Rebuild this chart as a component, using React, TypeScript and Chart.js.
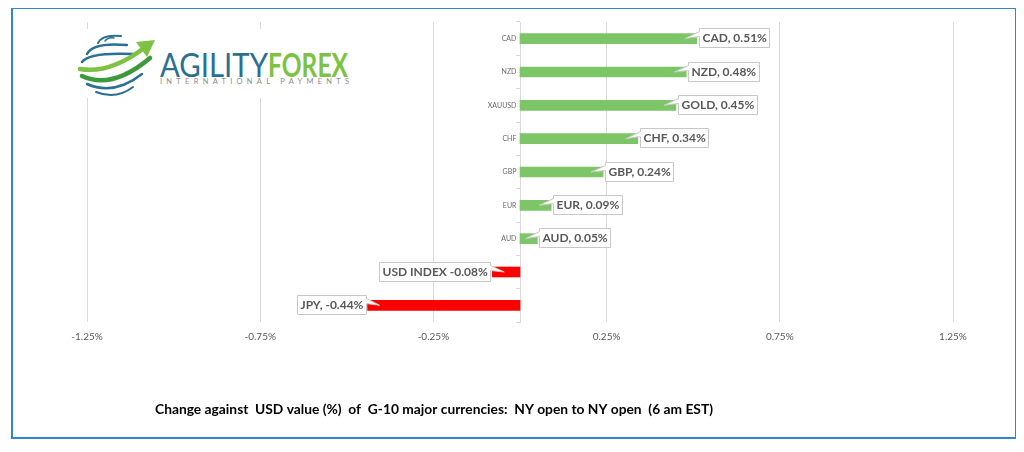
import React, { useEffect, useRef } from 'react';
import { Chart, registerables } from 'chart.js';

Chart.register(...registerables);

const categories = ['CAD', 'NZD', 'XAUUSD', 'CHF', 'GBP', 'EUR', 'AUD', 'USD', 'JPY'];
const changes = [0.51, 0.48, 0.45, 0.34, 0.24, 0.09, 0.05, -0.08, -0.44];
const calloutLabels = [
  'CAD, 0.51%',
  'NZD, 0.48%',
  'GOLD, 0.45%',
  'CHF, 0.34%',
  'GBP, 0.24%',
  'EUR, 0.09%',
  'AUD, 0.05%',
  'USD INDEX -0.08%',
  'JPY, -0.44%',
];
const xMin = -1.25;
const xMax = 1.25;
const xStep = 0.5;
const titleText =
  'Change against  USD value (%)  of  G-10 major currencies:  NY open to NY open  (6 am EST)';

const FONT = 'Lato, "Open Sans", sans-serif';
const POS_COLOR = '#7cc667';
const NEG_COLOR = '#ff0000';

const calloutPlugin = {
  id: 'callouts',
  afterDatasetsDraw(chart: any) {
    const ctx = chart.ctx;
    const meta = chart.getDatasetMeta(0);
    ctx.save();
    ctx.font = `bold 12px ${FONT}`;
    ctx.textBaseline = 'middle';
    meta.data.forEach((el: any, i: number) => {
      const text = calloutLabels[i];
      const tw = ctx.measureText(text).width;
      const padX = 3;
      const h = 19;
      const w = Math.round(tw + padX * 2);
      const pos = changes[i] >= 0;
      const end = el.x;
      const cy = el.y;
      const bx = Math.round(pos ? end + 2 : end - 2 - w) + 0.5;
      const by = Math.round(cy - h / 2 - 1) + 0.5;
      const tipX = pos ? end - 12 : end + 12;
      const tipY = cy;
      ctx.beginPath();
      if (pos) {
        ctx.moveTo(bx, by);
        ctx.lineTo(bx + w, by);
        ctx.lineTo(bx + w, by + h);
        ctx.lineTo(bx, by + h);
        ctx.lineTo(bx, by + 8);
        ctx.lineTo(tipX, tipY);
        ctx.lineTo(bx, by + 3);
        ctx.closePath();
      } else {
        ctx.moveTo(bx, by);
        ctx.lineTo(bx + w, by);
        ctx.lineTo(bx + w, by + 3);
        ctx.lineTo(tipX, tipY);
        ctx.lineTo(bx + w, by + 8);
        ctx.lineTo(bx + w, by + h);
        ctx.lineTo(bx, by + h);
        ctx.closePath();
      }
      ctx.fillStyle = '#ffffff';
      ctx.fill();
      ctx.strokeStyle = '#c8c8c8';
      ctx.lineWidth = 1;
      ctx.stroke();
      ctx.fillStyle = '#595959';
      ctx.textAlign = 'left';
      ctx.fillText(text, bx + padX, by + h / 2 + 0.5);
    });
    ctx.restore();
  },
};

const bottomTitlePlugin = {
  id: 'bottomTitle',
  afterDraw(chart: any) {
    const ctx = chart.ctx;
    ctx.save();
    ctx.font = `bold 13.8px ${FONT}`;
    ctx.fillStyle = '#000000';
    ctx.textAlign = 'left';
    ctx.textBaseline = 'middle';
    ctx.fillText(titleText, 147, 402);
    ctx.restore();
  },
};

function Logo() {
  const blue = '#2b6f93';
  const green = '#7dc242';
  const dark = '#3d9a3c';
  return (
    <svg
      width={284}
      height={69}
      viewBox="0 0 284 69"
      style={{ position: 'absolute', left: 68, top: 21 }}
    >
      <rect x={0} y={0} width={284} height={69} fill="#ffffff" />
      <g fill="none" strokeLinecap="round">
        <path d="M 22 14 Q 26 5 45 7" stroke={blue} strokeWidth={2} />
        <path d="M 29 12 Q 32 8 38 9" stroke={blue} strokeWidth={1.5} />
        <path d="M 11 25 Q 17 13 51 16" stroke={blue} strokeWidth={2.5} />
        <path d="M 6 33 Q 13 23 57 25" stroke={blue} strokeWidth={2.5} />
        <path d="M 4 40 Q 34 45 68 19" stroke={green} strokeWidth={4.5} />
        <path d="M 6 47 Q 36 61 74 29" stroke={dark} strokeWidth={4.5} />
        <path d="M 11 55 Q 38 67 66 45" stroke={blue} strokeWidth={2.5} />
        <path d="M 20 63 Q 40 71 57 58" stroke={blue} strokeWidth={2} />
      </g>
      <path d="M 60 13 L 79 11 L 71 28 Z" fill={green} />
      <text
        x={84}
        y={48}
        fontFamily="Lato, sans-serif"
        fontWeight={400}
        fontSize={33}
        fill={blue}
        textLength={108}
        lengthAdjust="spacingAndGlyphs"
      >
        AGILITY
      </text>
      <text
        x={192}
        y={48}
        fontFamily="Lato, sans-serif"
        fontWeight={700}
        fontSize={33}
        fill={green}
        textLength={80}
        lengthAdjust="spacingAndGlyphs"
      >
        FOREX
      </text>
      <text
        x={84}
        y={54.5}
        fontFamily="Lato, sans-serif"
        fontSize={7.5}
        fill="#8c8c8c"
        textLength={189}
        lengthAdjust="spacing"
      >
        INTERNATIONAL PAYMENTS
      </text>
    </svg>
  );
}

export default function App() {
  const canvasRef = useRef<HTMLCanvasElement | null>(null);

  useEffect(() => {
    const canvas = canvasRef.current;
    if (!canvas) return;
    const chart = new Chart(canvas, {
      type: 'bar',
      data: {
        labels: categories,
        datasets: [
          {
            data: changes,
            backgroundColor: changes.map((v) => (v >= 0 ? POS_COLOR : NEG_COLOR)),
            borderWidth: 0,
            barThickness: 10,
          },
        ],
      },
      options: {
        indexAxis: 'y',
        animation: false,
        responsive: false,
        events: [],
        layout: { padding: { left: 79, right: 63, top: 14, bottom: 92 } },
        plugins: {
          legend: { display: false },
          tooltip: { enabled: false },
          title: { display: false },
        },
        scales: {
          x: {
            type: 'linear',
            min: xMin,
            max: xMax,
            afterFit: (scale: any) => {
              scale.height = 30;
            },
            ticks: {
              stepSize: xStep,
              padding: 9,
              color: '#595959',
              font: { family: FONT, size: 10 },
              callback: (v: any) => `${Number(v).toFixed(2)}%`,
            },
            grid: { color: '#d9d9d9', drawTicks: false, lineWidth: 1 },
            border: { display: false },
          },
          y: {
            type: 'category',
            position: { x: 0 } as any,
            z: 1,
            ticks: {
              autoSkip: false,
              color: '#6b6b6b',
              font: { family: FONT, size: 7 },
              padding: 0,
              callback: function (this: any, v: any) {
                return `${this.getLabelForValue(v)}  `;
              },
            },
            grid: {
              display: true,
              drawOnChartArea: false,
              drawTicks: true,
              tickLength: 4,
              color: '#d9d9d9',
              offset: true,
            },
            border: { display: true, color: '#d9d9d9', width: 1 },
          },
        },
      },
      plugins: [calloutPlugin, bottomTitlePlugin],
    } as any);
    return () => chart.destroy();
  }, []);

  return (
    <div style={{ position: 'relative', width: 1008, height: 436 }}>
      <canvas
        ref={canvasRef}
        width={1008}
        height={436}
        style={{ display: 'block', width: 1008, height: 436 }}
      />
      <Logo />
      <div
        style={{
          position: 'absolute',
          left: 3,
          top: -1,
          width: 1006,
          height: 432,
          boxSizing: 'border-box',
          border: '2px solid #2f86d3',
          pointerEvents: 'none',
        }}
      />
    </div>
  );
}
